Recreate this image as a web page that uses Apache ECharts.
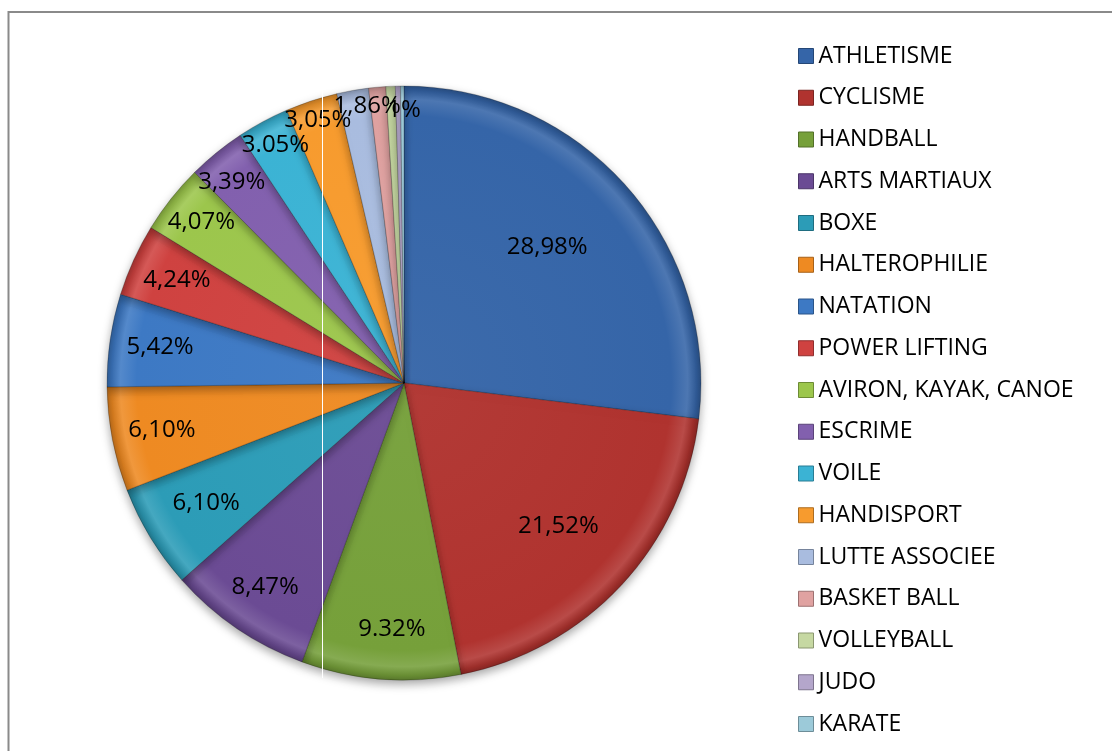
<!DOCTYPE html>
<html>
<head>
<meta charset="utf-8">
<title>Répartition par discipline</title>
<script src="https://cdn.jsdelivr.net/npm/echarts@6/dist/echarts.min.js"></script>
<style>
  html, body { margin: 0; padding: 0; background: #ffffff; }
  #chart { width: 1112px; height: 751px; }
</style>
</head>
<body>
<div id="chart"></div>
<script>
// Disciplines, in slice order (clockwise from 12 o'clock)
const categories = [
  'ATHLETISME', 'CYCLISME', 'HANDBALL', 'ARTS MARTIAUX', 'BOXE',
  'HALTEROPHILIE', 'NATATION', 'POWER LIFTING', 'AVIRON, KAYAK, CANOE',
  'ESCRIME', 'VOILE', 'HANDISPORT', 'LUTTE ASSOCIEE', 'BASKET BALL',
  'VOLLEYBALL', 'JUDO', 'KARATE'
];

// Share of each discipline (%)
const shares = [
  28.98, 21.52, 9.32, 8.47, 6.10,
  6.10, 5.42, 4.24, 4.07,
  3.39, 3.05, 3.05, 1.86, 1,
  0.55, 0.3, 0.2
];

// Printed data labels (empty = no label)
const labelTexts = [
  '28,98%', '21,52%', '9.32%', '8,47%', '6,10%',
  '6,10%', '5,42%', '4,24%', '4,07%',
  '3,39%', '3.05%', '3,05%', '1,86%', '1%',
  '', '', ''
];

// Slice colours
const colors = [
  '#3565A8', '#B0332F', '#76A03A', '#6B4B94', '#2C9CB7',
  '#EE8A22', '#3D79C4', '#CF4240', '#9CC64C',
  '#8260AE', '#3BB3D4', '#F79B2E', '#A9BCDF', '#E0A2A1',
  '#C6D8A2', '#B4A6CB', '#9CCAD9'
];

// Label placement: distance from centre (fraction of radius) and angular nudge (deg)
const labelRadius = [0.665, 0.71, 0.83, 0.83, 0.78, 0.83, 0.83, 0.84, 0.87, 0.89, 0.91, 0.93, 0.94, 0.92, 0.9, 0.9, 0.9];
const labelTurn   = [-2, 0, -1.7, 0, 0, 0, 0, 0, 0, -1.5, 0, 0, 2.4, 5.2, 0, 0, 0];

const CX = 404, CY = 383, R = 297;
const FONT = '"Open Sans", "Noto Sans", sans-serif';

function shade(hex, amt) {
  const n = parseInt(hex.slice(1), 16);
  let r = (n >> 16) & 255, g = (n >> 8) & 255, b = n & 255;
  const f = (c) => amt >= 0 ? Math.round(c + (255 - c) * amt) : Math.round(c * (1 + amt));
  r = f(r); g = f(g); b = f(b);
  return 'rgb(' + r + ',' + g + ',' + b + ')';
}

// Bevelled fill: flat body, lighter band near the rim, darker outer edge
function bevel(hex) {
  return {
    type: 'radial', x: CX, y: CY, r: R, global: true,
    colorStops: [
      { offset: 0, color: shade(hex, 0.04) },
      { offset: 0.9, color: hex },
      { offset: 0.955, color: shade(hex, 0.12) },
      { offset: 0.985, color: shade(hex, -0.12) },
      { offset: 1, color: shade(hex, -0.25) }
    ]
  };
}

const pieData = categories.map((name, i) => ({
  name: name,
  value: shares[i],
  itemStyle: { color: bevel(colors[i]) },
  label: { show: labelTexts[i] !== '', formatter: labelTexts[i] }
}));

const legendData = categories.map((name, i) => ({
  name: name,
  itemStyle: { color: colors[i], borderColor: shade(colors[i], -0.3), borderWidth: 1 }
}));

const chart = echarts.init(document.getElementById('chart'), null, { renderer: 'canvas' });

chart.setOption({
  animation: false,
  backgroundColor: '#ffffff',
  graphic: [
    {
      type: 'rect', z: 0, silent: true,
      shape: { x: 8.5, y: 12, width: 1200, height: 800 },
      style: { fill: 'none', stroke: '#8a8a8a', lineWidth: 2 }
    },
    {
      type: 'line', z: 100, silent: true,
      shape: { x1: 322.5, y1: 60, x2: 322.5, y2: 678 },
      style: { stroke: '#ffffff', lineWidth: 1 }
    }
  ],
  legend: {
    orient: 'vertical',
    left: 798,
    top: 44,
    padding: 0,
    itemWidth: 15,
    itemHeight: 15,
    itemGap: 17.75,
    icon: 'rect',
    selectedMode: false,
    data: legendData,
    textStyle: { fontFamily: FONT, fontSize: 23, lineHeight: 24, color: '#000000' }
  },
  series: [{
    type: 'pie',
    center: [CX, CY],
    radius: [0, R],
    startAngle: 90,
    clockwise: true,
    avoidLabelOverlap: false,
    data: pieData,
    itemStyle: {
      borderColor: 'rgba(0,0,0,0.22)',
      borderWidth: 1,
      shadowBlur: 10,
      shadowOffsetX: 0,
      shadowOffsetY: 4,
      shadowColor: 'rgba(0,0,0,0.35)'
    },
    label: {
      position: 'inside',
      fontFamily: FONT,
      fontSize: 24,
      color: '#000000'
    },
    labelLine: { show: false },
    labelLayout: function (p) {
      const i = p.dataIndex;
      const lx = p.labelRect.x + p.labelRect.width / 2;
      const ly = p.labelRect.y + p.labelRect.height / 2;
      const ang = Math.atan2(ly - CY, lx - CX) + labelTurn[i] * Math.PI / 180;
      const d = labelRadius[i] * R;
      return { x: CX + d * Math.cos(ang), y: CY + d * Math.sin(ang), align: 'center', verticalAlign: 'middle' };
    },
    emphasis: { disabled: true }
  }]
});
</script>
</body>
</html>
